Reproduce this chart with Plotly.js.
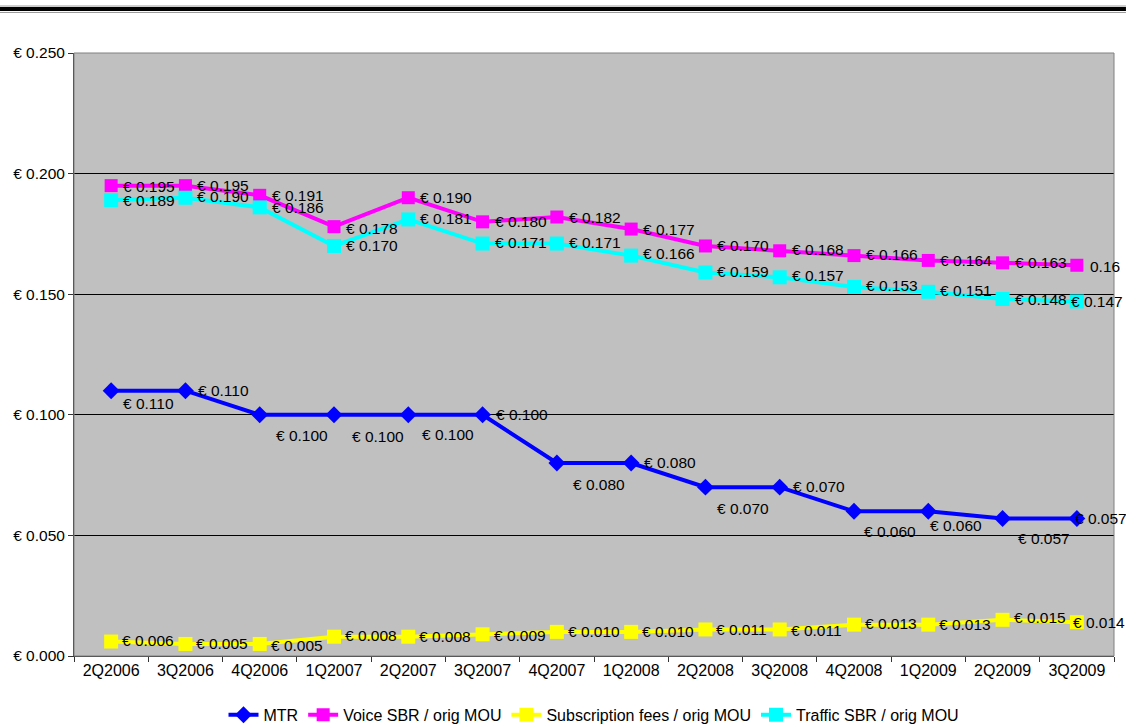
<!DOCTYPE html>
<html>
<head>
<meta charset="utf-8">
<script src="https://cdn.plot.ly/plotly-3.0.1.min.js"></script>
<style>
  html, body { margin: 0; padding: 0; background: #ffffff; }
  #chart { width: 1126px; height: 725px; }
</style>
</head>
<body>
<div id="chart"></div>
<script>
// ---- Data ----
const categories = ['2Q2006','3Q2006','4Q2006','1Q2007','2Q2007','3Q2007','4Q2007',
                    '1Q2008','2Q2008','3Q2008','4Q2008','1Q2009','2Q2009','3Q2009'];

const mtr          = [0.110,0.110,0.100,0.100,0.100,0.100,0.080,0.080,0.070,0.070,0.060,0.060,0.057,0.057];
const voiceSbr     = [0.195,0.195,0.191,0.178,0.190,0.180,0.182,0.177,0.170,0.168,0.166,0.164,0.163,0.162];
const subscription = [0.006,0.005,0.005,0.008,0.008,0.009,0.010,0.010,0.011,0.011,0.013,0.013,0.015,0.014];
const trafficSbr   = [0.189,0.190,0.186,0.170,0.181,0.171,0.171,0.166,0.159,0.157,0.153,0.151,0.148,0.147];

const seriesNames = ['MTR','Voice SBR / orig MOU','Subscription fees / orig MOU','Traffic SBR / orig MOU'];

// data label texts
const fmt = v => '€ ' + v.toFixed(3);
const mtrLabels   = mtr.map(fmt);
const voiceLabels = voiceSbr.map(fmt); voiceLabels[13] = '0.16';
const subLabels   = subscription.map(fmt);
const trafLabels  = trafficSbr.map(fmt);

// ---- Label placement offsets (px, from marker centre: dx to text left, dy down) ----
const mtrDx = [11,12,15,17,13,12,15,12,11,12,9,1,14,-3];
const mtrDy = [13,0,21,22,20,0,21,-1,21,-1,20,14,20,0];
const voiceDx = [11,11,11,11,11,11,11,11,11,11,11,11,11,12];
const voiceDy = [1,0,0,2,0,0,0,0,0,-1,-1,0,0,1];
const trafDx = [11,11,11,11,11,11,11,11,11,11,11,11,11,-7];
const trafDy = [0,-1,0,0,-1,-1,-1,-2,-1,-2,-1,-1,0,0];
const subDx = [10,10,10,10,10,10,10,10,10,10,10,10,10,-5];
const subDy = [-1,0,2,-1,0,1,0,0,0,1,-1,0,-2,0];

const FONT = 'Liberation Sans, Arial, sans-serif';
const colors = ['#0000FF','#FF00FF','#FFFF00','#00FFFF'];

function mkTrace(y, name, color, symbol, size) {
  return {
    type: 'scatter', mode: 'lines+markers', x: categories, y: y, name: name,
    line: {color: color, width: 4},
    marker: {color: color, symbol: symbol, size: size},
    cliponaxis: false, hoverinfo: 'skip'
  };
}

const traces = [
  mkTrace(mtr, seriesNames[0], colors[0], 'diamond', 13),
  mkTrace(voiceSbr, seriesNames[1], colors[1], 'square', 13),
  mkTrace(subscription, seriesNames[2], colors[2], 'square', 14),
  mkTrace(trafficSbr, seriesNames[3], colors[3], 'square', 14)
];

function mkLabels(vals, texts, dx, dy) {
  return vals.map((v, i) => ({
    x: categories[i], y: v, xref: 'x', yref: 'y', text: texts[i],
    showarrow: false, xanchor: 'left', yanchor: 'middle',
    xshift: dx[i], yshift: -dy[i], borderpad: 0,
    font: {family: FONT, size: 15.5, color: '#000000'}
  }));
}

const annotations = [].concat(
  mkLabels(mtr, mtrLabels, mtrDx, mtrDy),
  mkLabels(voiceSbr, voiceLabels, voiceDx, voiceDy),
  mkLabels(trafficSbr, trafLabels, trafDx, trafDy),
  mkLabels(subscription, subLabels, subDx, subDy)
);

const layout = {
  width: 1126, height: 725,
  margin: {l: 74, r: 12, t: 53, b: 69},
  paper_bgcolor: '#ffffff',
  plot_bgcolor: '#C0C0C0',
  font: {family: FONT, size: 15, color: '#000000'},
  showlegend: true,
  legend: {
    orientation: 'h', xref: 'paper', x: 0.5, xanchor: 'center',
    yref: 'container', y: 0.014, yanchor: 'middle',
    font: {family: FONT, size: 16, color: '#000000'},
    itemwidth: 30, tracegroupgap: 0, bgcolor: 'rgba(0,0,0,0)'
  },
  xaxis: {
    type: 'category', range: [-0.5, 13.5],
    showgrid: false, zeroline: false,
    showline: true, linecolor: '#333333', linewidth: 1,
    ticks: 'outside', tickson: 'boundaries', ticklen: 5, tickcolor: '#333333',
    tickfont: {family: FONT, size: 16, color: '#000000'}
  },
  yaxis: {
    range: [0, 0.25], dtick: 0.05, tick0: 0,
    tickprefix: '€ ', tickformat: '.3f',
    showgrid: true, gridcolor: '#000000', gridwidth: 1,
    zeroline: false,
    showline: true, linecolor: '#333333', linewidth: 1,
    ticks: 'outside', ticklen: 5, tickcolor: '#333333',
    tickfont: {family: FONT, size: 15.5, color: '#000000'}
  },
  annotations: annotations,
  shapes: [
    {type: 'rect', xref: 'paper', yref: 'paper', x0: 0, x1: 1, y0: 0, y1: 1,
     line: {color: '#808080', width: 1}, layer: 'above'},
    {type: 'line', xref: 'paper', yref: 'paper', x0: -0.0712, x1: 1.0115, y0: 1.0779, y1: 1.0779,
     line: {color: '#9a9a9a', width: 1}},
    {type: 'line', xref: 'paper', yref: 'paper', x0: -0.0712, x1: 1.0115, y0: 1.0730, y1: 1.0730,
     line: {color: '#000000', width: 4}},
    {type: 'line', xref: 'paper', yref: 'paper', x0: -0.0712, x1: 1.0115, y0: 1.0672, y1: 1.0672,
     line: {color: '#9a9a9a', width: 1}}
  ]
};

Plotly.newPlot('chart', traces, layout, {displayModeBar: false, staticPlot: true});
</script>
</body>
</html>
